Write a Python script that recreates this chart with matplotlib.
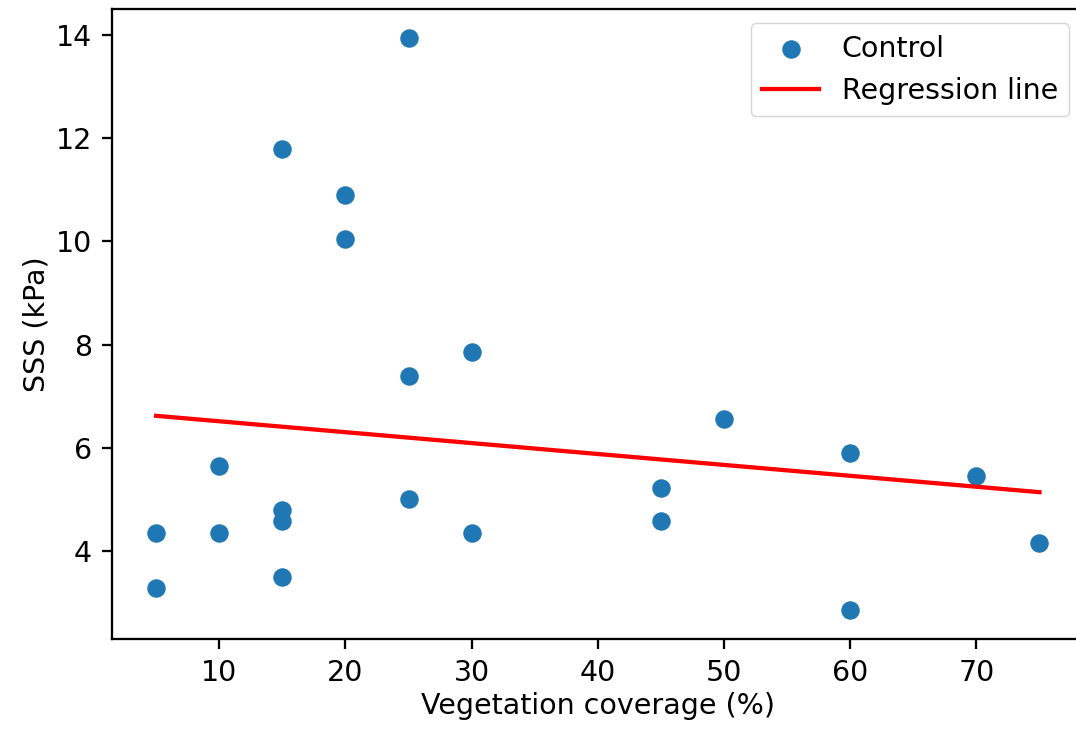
import numpy as np
import matplotlib
matplotlib.use('Agg')
import matplotlib.pyplot as plt

# values
coverage = [5, 5, 10, 10, 15, 15, 15, 15, 20, 20, 25, 25, 25, 30, 30,
            45, 45, 50, 60, 60, 70, 75]
sss = [4.35, 3.28, 5.65, 4.35, 11.8, 4.8, 4.58, 3.5, 10.9, 10.05, 13.95, 7.4, 5.0,
       7.85, 4.35, 5.22, 4.58, 6.55, 5.9, 2.85, 5.45, 4.15]

# regression line as drawn in the reference (6.62 at 5 %, 5.14 at 75 %)
reg_slope = -0.02114
reg_intercept = 6.726

scale = 2.05
plt.rcParams['font.size'] = 10 * scale

x = np.array(coverage)
y = np.array(sss)

fig = plt.figure(figsize=(10.76, 7.36), dpi=100)
# axes runs slightly past the right edge, as in the reference crop
ax = fig.add_axes([0.1041, 0.1318, 0.903, 0.856])

ax.scatter(x, y, s=6 ** 2 * scale ** 2, color='#1f77b4', label='Control')
ax.plot(x, reg_intercept + reg_slope * x, color='red', lw=1.5 * scale,
        label='Regression line')

ax.set_xlabel('Vegetation coverage (%)')
ax.set_ylabel('SSS (kPa)')
ax.set_yticks([4, 6, 8, 10, 12, 14])
for s in ax.spines.values():
    s.set_linewidth(0.8 * scale)
ax.tick_params(length=3.5 * scale, width=0.8 * scale, pad=3.5 * scale)
ax.legend(loc='upper right')

fig.savefig('out.png', dpi=100)
